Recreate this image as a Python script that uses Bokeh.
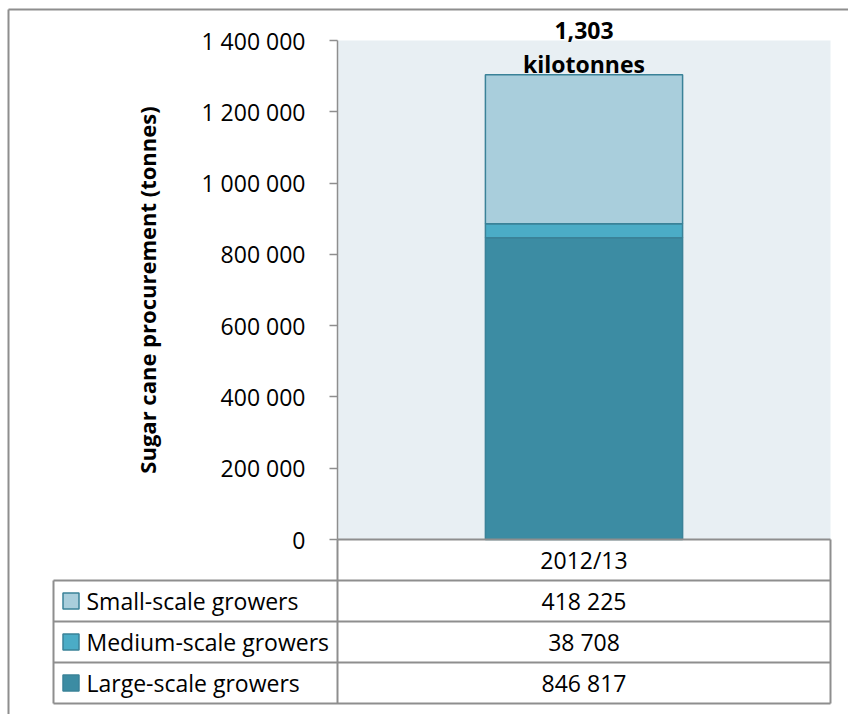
from bokeh.plotting import figure
from bokeh.models import Range1d, LinearAxis, FixedTicker, CustomJSTickFormatter, ColumnDataSource
from bokeh.core.properties import value
from bokeh.embed import file_html
from bokeh.resources import INLINE

# ---------------- data ----------------
season = ["2012/13"]
series = ["Small-scale growers", "Medium-scale growers", "Large-scale growers"]
tonnes = [418225, 38708, 846817]
colors = ["#A9CEDC", "#4BACC6", "#3C8CA3"]
y_ticks = [0, 200000, 400000, 600000, 800000, 1000000, 1200000, 1400000]
y_label = "Sugar cane procurement (tonnes)"
unit_label = "kilotonnes"

# ---------------- layout helpers ----------------
W, H = 848, 714
PL, PR, PT, PB = 337, 830, 40, 539   # plot area in canvas pixels
YMAX = y_ticks[-1]
xs = 1.0 / (PR - PL)
ys = YMAX / (PB - PT)

def X(px):
    return -0.5 + (px - PL) * xs

def Y(py):
    return (PB - py) * ys

FONT = value("Open Sans")
FS = "23px"
GRID = "#8E8E8E"

p = figure(width=W, height=H, x_range=Range1d(X(0), X(W)), y_range=Range1d(Y(H), Y(0)),
           x_axis_type=None, y_axis_type=None, toolbar_location=None,
           output_backend="svg", min_border=0)
p.outline_line_color = None
p.background_fill_color = "white"
p.border_fill_color = "white"
p.xgrid.visible = False
p.ygrid.visible = False

# plot area background
p.quad(left=[-0.5], right=[0.5], bottom=[0], top=[YMAX], fill_color="#E8EFF3", line_color=None)

# stacked bar (bottom to top: large, medium, small)
src = ColumnDataSource(dict(x=[0.0], large=[tonnes[2]], medium=[tonnes[1]], small=[tonnes[0]]))
p.vbar_stack(["large", "medium", "small"], x="x", width=0.4, source=src,
             fill_color=[colors[2], colors[1], colors[0]], line_color="#3A8298", line_width=1.5)

# total label (two lines)
total = sum(tonnes)
p.text(x=[0.0], y=[total], text=[unit_label],
       text_font=FONT, text_font_size=FS, text_font_style="bold",
       text_align="center", text_baseline="bottom", text_color="black", y_offset=[5])
p.text(x=[0.0], y=[total], text=[f"{int(total // 1000):,}"],
       text_font=FONT, text_font_size=FS, text_font_style="bold",
       text_align="center", text_baseline="bottom", text_color="black", y_offset=[-36])

# y axis
ax = LinearAxis(fixed_location=-0.5, bounds=(0, YMAX), ticker=FixedTicker(ticks=y_ticks),
                formatter=CustomJSTickFormatter(code=r"return Math.round(tick).toString().replace(/\B(?=(\d{3})+(?!\d))/g, ' ');"),
                axis_label=y_label)
ax.axis_line_color = GRID
ax.axis_line_width = 1.5
ax.major_tick_line_color = GRID
ax.major_tick_line_width = 1.5
ax.major_tick_out = 8
ax.major_tick_in = 0
ax.minor_tick_out = 0
ax.minor_tick_in = 0
ax.major_label_standoff = 24
ax.major_label_text_font = "Open Sans"
ax.major_label_text_font_size = FS
ax.major_label_text_color = "black"
ax.axis_label_text_font = "Open Sans"
ax.axis_label_text_font_size = "22px"
ax.axis_label_text_font_style = "bold"
ax.axis_label_text_color = "black"
ax.axis_label_standoff = 36
p.add_layout(ax, "left")

# data table
rows = [539, 580, 621, 662, 703]
TL = 53
x0 = [X(PL), X(TL), X(TL), X(TL), X(TL), X(PL), X(TL), X(PR)]
y0 = [Y(rows[0]), Y(rows[1]), Y(rows[2]), Y(rows[3]), Y(rows[4]), Y(rows[0]), Y(rows[1]), Y(rows[0])]
x1 = [X(PR), X(PR), X(PR), X(PR), X(PR), X(PL), X(TL), X(PR)]
y1 = [Y(rows[0]), Y(rows[1]), Y(rows[2]), Y(rows[3]), Y(rows[4]), Y(rows[4]), Y(rows[4]), Y(rows[4])]
p.segment(x0=x0, y0=y0, x1=x1, y1=y1, line_color=GRID, line_width=2)

# outer frame
p.segment(x0=[X(8), X(8)], y0=[Y(9), Y(9)], x1=[X(W), X(8)], y1=[Y(9), Y(H)], line_color=GRID, line_width=2)

mid = [Y((rows[i] + rows[i + 1]) / 2) for i in range(4)]
p.text(x=[0.0], y=[mid[0]], text=season, text_font=FONT, text_font_size=FS,
       text_align="center", text_baseline="middle", text_color="black")
p.text(x=[0.0] * 3, y=mid[1:], text=[f"{v:,}".replace(",", " ") for v in tonnes],
       text_font=FONT, text_font_size=FS, text_align="center", text_baseline="middle",
       text_color="black")
p.scatter(x=[X(70.5)] * 3, y=mid[1:], marker="square", size=16, fill_color=colors,
          line_color="#3A8298", line_width=1.5)
p.text(x=[X(86)] * 3, y=mid[1:], text=series, text_font=FONT, text_font_size=FS,
       text_align="left", text_baseline="middle", text_color="black")

open("out.html", "w").write(file_html(p, INLINE))
